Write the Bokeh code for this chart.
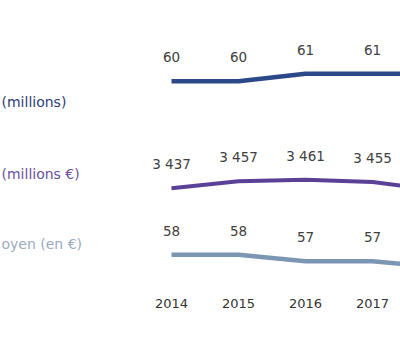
from bokeh.plotting import figure
from bokeh.models import Range1d, Label
from bokeh.core.properties import value
from bokeh.embed import file_html
from bokeh.resources import INLINE

# ---- data ----
years = [2014, 2015, 2016, 2017, 2018]
year_labels = ["2014", "2015", "2016", "2017"]
visitors = [60, 60, 61, 61, 61]            # millions (2018 cut off at the right)
visitor_labels = ["60", "60", "61", "61"]
revenue = [3437, 3457, 3461, 3455, 3430]   # millions €
revenue_labels = ["3 437", "3 457", "3 461", "3 455"]
basket = [58, 58, 57, 57, 56]              # en €
basket_labels = ["58", "58", "57", "57"]
row_titles = ["(millions)", "(millions €)", "oyen (en €)"]

W, H = 400, 349
FONT = "DejaVu Sans"

# x scale: 2014 at ~171px, 67px per year
px_per_year = 67.0
x0 = 2014 - 171.0 / px_per_year
p = figure(width=W, height=H, output_backend="svg", toolbar_location=None,
           x_range=Range1d(x0, x0 + W / px_per_year), y_range=Range1d(H, 0),
           x_axis_type=None, y_axis_type=None, min_border=0,
           outline_line_color=None)
p.grid.visible = False
p.background_fill_color = "white"
p.border_fill_color = "white"


def row_range(anchor_val, anchor_px, px_per_unit):
    top = anchor_val + anchor_px / px_per_unit
    bottom = anchor_val - (H - anchor_px) / px_per_unit
    return Range1d(bottom, top)


p.extra_y_ranges = {
    "vis": row_range(60, 80.7, 7.4),
    "rev": row_range(3437, 187.7, 0.35),
    "bas": row_range(58, 254.3, 6.4),
}

series = [
    ("vis", visitors, visitor_labels, "#2b4888", 4.5),
    ("rev", revenue, revenue_labels, "#5b4196", 4),
    ("bas", basket, basket_labels, "#7a96b3", 4.5),
]
for name, vals, labs, col, lw in series:
    p.line(years, vals, y_range_name=name, line_color=col, line_width=lw)
    p.text(years[:len(labs)], vals[:len(labs)], text=labs, y_range_name=name,
           y_offset=-24, text_align="center", text_baseline="middle",
           text_font=value(FONT), text_font_size="13.5px", text_color="#404040")

# year labels
p.text(years[:len(year_labels)], [303] * len(year_labels), text=year_labels,
       text_align="center", text_baseline="middle", text_font=value(FONT),
       text_font_size="13px", text_color="#333333")

# row titles (cut off at the left edge)
title_colors = ["#2e3d78", "#6b4f9e", "#9aabc0"]
title_y = [101.7, 173.3, 243.3]
for t, c, y in zip(row_titles, title_colors, title_y):
    p.add_layout(Label(x=1, y=H - y, x_units="screen", y_units="screen",
                       text=t, text_color=c, text_font=FONT,
                       text_font_size="14px", text_baseline="middle",
                       text_align="left"))

open("out.html", "w").write(file_html(p, INLINE))
